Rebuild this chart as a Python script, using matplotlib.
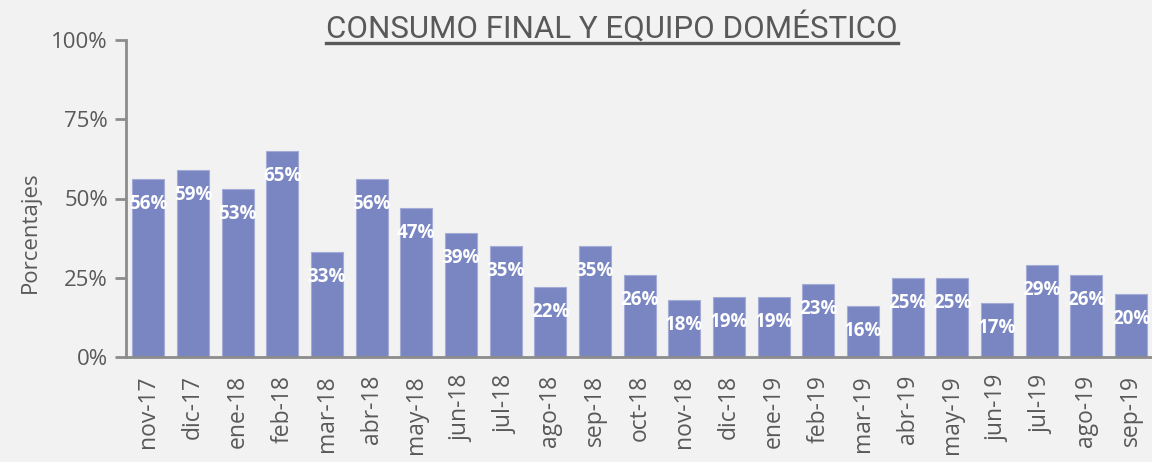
import matplotlib
matplotlib.use("Agg")
import numpy as np
from matplotlib import pyplot as plt
from matplotlib.lines import Line2D

meses = ["nov-17", "dic-17", "ene-18", "feb-18", "mar-18", "abr-18", "may-18",
         "jun-18", "jul-18", "ago-18", "sep-18", "oct-18", "nov-18", "dic-18",
         "ene-19", "feb-19", "mar-19", "abr-19", "may-19", "jun-19", "jul-19",
         "ago-19", "sep-19"]
valores = [56, 59, 53, 65, 33, 56, 47, 39, 35, 22, 35, 26, 18, 19, 19, 23, 16,
           25, 25, 17, 29, 26, 20]
y_ticks = [0, 25, 50, 75, 100]

gris = "#595959"
fondo = "#f2f2f2"
barra = "#7a86c2"

plt.rcParams["font.family"] = ["Open Sans", "DejaVu Sans"]

fig = plt.figure(figsize=(11.52, 4.62), dpi=100, facecolor=fondo)
ax = fig.add_axes([126 / 1152, 1 - 357 / 462, 1 - 126 / 1152, 317 / 462])
ax.set_facecolor(fondo)

x = np.arange(len(meses))
ax.bar(x, valores, width=0.72, color=barra, edgecolor="#a3abd6", linewidth=0.8, zorder=2)

for xi, v in zip(x, valores):
    ax.annotate(f"{v}%", (xi, v), xytext=(0, -25), textcoords="offset pixels",
                ha="center", va="center", color="white", fontsize=13.5,
                fontweight="bold", zorder=3)

ax.set_xlim(-0.5, 22.47)
ax.set_ylim(0, 100)
ax.set_yticks(y_ticks)
ax.set_yticklabels([f"{t}%" for t in y_ticks])
ax.set_xticks(x)
ax.set_xticklabels(meses, rotation=90)

for s in ["top", "right"]:
    ax.spines[s].set_visible(False)
for s in ["left", "bottom"]:
    ax.spines[s].set_color("#8c8c8c")
    ax.spines[s].set_linewidth(2)
ax.tick_params(axis="y", colors="#8c8c8c", length=8, width=2, pad=5,
               labelsize=16, labelcolor=gris)
ax.tick_params(axis="x", length=0, pad=13, labelsize=16.5, labelcolor=gris)
ax.set_ylabel("Porcentajes", fontsize=16, color=gris, labelpad=12)
ax.yaxis.set_label_coords(-0.083, 0.394)

titulo = fig.text(612 / 1152, 1 - 28 / 462, "CONSUMO FINAL Y EQUIPO DOMÉSTICO",
                  ha="center", va="center", fontsize=22.5, color=gris,
                  family=["Roboto", "DejaVu Sans"])
fig.canvas.draw()
bb = titulo.get_window_extent().transformed(fig.transFigure.inverted())
fig.add_artist(Line2D([bb.x0, bb.x1], [1 - 43 / 462] * 2, color=gris,
                      linewidth=2.4, transform=fig.transFigure))

fig.savefig("out.png", dpi=100, facecolor=fondo)
